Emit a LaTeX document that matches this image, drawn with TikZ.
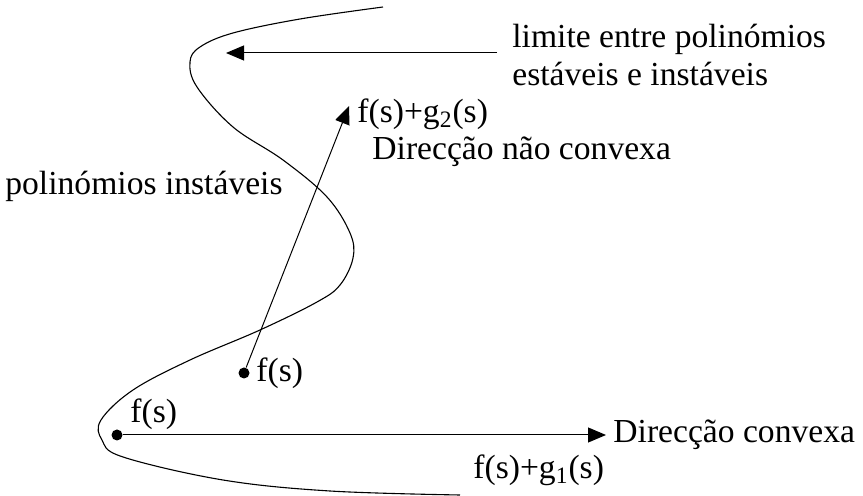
\documentclass[tikz,border=0pt]{standalone}
\usepackage{fontspec}
\setmainfont{Liberation Serif}
\usetikzlibrary{arrows.meta}
\tikzset{
  lbl/.style={inner sep=0pt, anchor=west, font=\fontsize{16.8}{19}\selectfont, align=left},
  dotnode/.style={circle, fill=black, inner sep=0pt, minimum size=5.5pt},
  arr/.style={line width=0.5pt, -{Triangle[length=9pt,width=7.5pt]}},
  boundary/.style={line width=0.55pt}
}
\begin{document}
\begin{tikzpicture}[x=0.5pt,y=-0.5pt]
\useasboundingbox (0,0) rectangle (863,496);
% boundary curve
\draw[boundary] plot[smooth, tension=0.6] coordinates {
 (383,7) (300,19) (233,33) (200,47) (190,62) (197,87) (233,127) (283,160)
 (327,197) (350,233) (353,258) (340,285) (317,302) (260,330) (190,360)
 (133,390) (101,420) (102,440) (123,457) (223,480) (330,491) (460,495)};
% dots
\node[dotnode] (d1) at (244,373) {};
\node[dotnode] (d2) at (117,435) {};
% arrow tips
\coordinate (t1) at (349,106);
\coordinate (t2) at (606,435);
\coordinate (t3) at (226,53);
\coordinate (s3) at (497,53);
\draw[arr] (d1) -- (t1);
\draw[arr] (d2) -- (t2);
\draw[arr] (s3) -- (t3);
% labels
\node[lbl] (lim) at (512,55) {limite entre polinómios\\estáveis e instáveis};
\node[lbl] (fg2) at (357,114) {f(s)+g\textsubscript{2}(s)};
\node[lbl] (dnc) at (372,152) {Direcção não convexa};
\node[lbl] (pin) at (5,186) {polinómios instáveis};
\node[lbl] (fs1) at (256,373) {f(s)};
\node[lbl] (fs2) at (130,414) {f(s)};
\node[lbl] (dc) at (613,435) {Direcção convexa};
\node[lbl] (fg1) at (473,470) {f(s)+g\textsubscript{1}(s)};
\end{tikzpicture}
\end{document}
